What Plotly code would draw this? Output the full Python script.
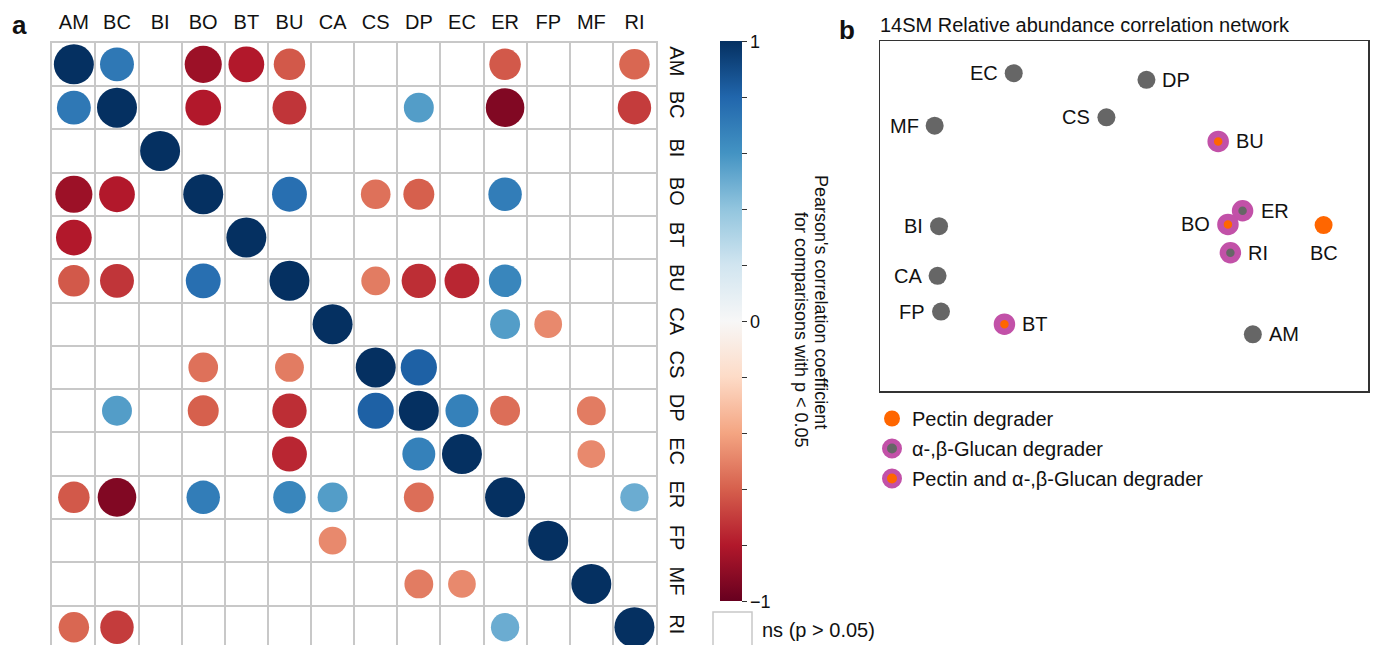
import plotly.graph_objects as go

# ---------------- data ----------------
species = ["AM", "BC", "BI", "BO", "BT", "BU", "CA", "CS", "DP", "EC", "ER", "FP", "MF", "RI"]

# Pearson correlation (None = not significant, p > 0.05); rows/cols follow `species`
corr = [
    [1.00, 0.72, None, -0.86, -0.80, -0.62, None, None, None, None, -0.62, None, None, -0.58],
    [0.72, 1.00, None, -0.80, None, -0.72, None, None, 0.56, None, -0.93, None, None, -0.70],
    [None, None, 1.00, None, None, None, None, None, None, None, None, None, None, None],
    [-0.86, -0.80, None, 1.00, None, 0.76, None, -0.55, -0.60, None, 0.70, None, None, None],
    [-0.80, None, None, None, 1.00, None, None, None, None, None, None, None, None, None],
    [-0.62, -0.72, None, 0.76, None, 1.00, None, -0.52, -0.74, -0.76, 0.66, None, None, None],
    [None, None, None, None, None, None, 1.00, None, None, None, 0.56, -0.48, None, None],
    [None, None, None, -0.55, None, -0.52, None, 1.00, 0.82, None, None, None, None, None],
    [None, 0.56, None, -0.60, None, -0.74, None, 0.82, 1.00, 0.68, -0.56, None, -0.52, None],
    [None, None, None, None, None, -0.76, None, None, 0.68, 1.00, None, None, -0.48, None],
    [-0.62, -0.93, None, 0.70, None, 0.66, 0.56, None, -0.56, None, 1.00, None, None, 0.50],
    [None, None, None, None, None, None, -0.48, None, None, None, None, 1.00, None, None],
    [None, None, None, None, None, None, None, None, -0.52, -0.48, None, None, 1.00, None],
    [-0.58, -0.70, None, None, None, None, None, None, None, None, 0.50, None, None, 1.00],
]

# network layout (panel b)
node_names = ["EC", "DP", "CS", "MF", "BU", "ER", "BO", "BC", "BI", "RI", "CA", "FP", "BT", "AM"]
node_x = [27.4, 54.6, 46.4, 11.2, 69.3, 74.3, 71.3, 90.9, 12.1, 71.8, 11.8, 12.5, 25.5, 76.4]
node_y = [90.8, 88.9, 78.2, 75.8, 71.3, 51.5, 47.6, 47.4, 47.1, 39.5, 32.9, 22.7, 19.1, 16.2]
node_type = ["other", "other", "other", "other", "both", "glucan", "both", "pectin",
             "other", "glucan", "other", "other", "both", "other"]
node_label_side = ["left", "right", "left", "left", "right", "right", "left", "below",
                   "left", "right", "left", "left", "right", "right"]

cbar_tickvals = [-1, -0.8, -0.6, -0.4, -0.2, 0, 0.2, 0.4, 0.6, 0.8, 1]
cbar_ticktext = ["\u22121", "", "", "", "", "0", "", "", "", "", "1"]

# ---------------- style ----------------
FONT = "Liberation Sans, Arial, sans-serif"
RDBU = ['rgb(103,0,31)', 'rgb(178,24,43)', 'rgb(214,96,77)', 'rgb(244,165,130)',
        'rgb(253,219,199)', 'rgb(247,247,247)', 'rgb(209,229,240)', 'rgb(146,197,222)',
        'rgb(67,147,195)', 'rgb(33,102,172)', 'rgb(5,48,97)']
colorscale = [[i / (len(RDBU) - 1), c] for i, c in enumerate(RDBU)]
GRAY = "#666666"
ORANGE = "#FF6600"
MAGENTA = "#C251A8"
GRIDC = "#c8c8c8"
W, H = 1373, 645

# ---------------- matrix points ----------------
mx, my, mr = [], [], []
for i, row in enumerate(corr):
    for j, v in enumerate(row):
        if v is not None:
            mx.append(species[j])
            my.append(species[i])
            mr.append(v)
msize = [40 * abs(v) ** 0.5 for v in mr]

fig = go.Figure()
fig.add_trace(go.Scatter(
    x=mx, y=my, mode="markers", showlegend=False, hoverinfo="skip",
    marker=dict(size=msize, color=mr, colorscale=colorscale, cmin=-1, cmax=1,
                line=dict(width=0), opacity=1,
                colorbar=dict(x=719.5 / W, xanchor="left", y=(H - 41.3) / H, yanchor="top",
                              len=559.7 / H, lenmode="fraction", thickness=22,
                              thicknessmode="pixels", xpad=0, ypad=0, outlinewidth=0,
                              tickvals=cbar_tickvals, ticktext=cbar_ticktext,
                              ticks="outside", ticklen=5, tickcolor="#333", tickwidth=1,
                              tickfont=dict(family=FONT, size=18, color="#111"))),
    xaxis="x", yaxis="y"))

# ---------------- network nodes ----------------
groups = [
    ("other", None, GRAY, 18, 0, GRAY, 9),
    ("pectin", "Pectin degrader", ORANGE, 18, 0, ORANGE, 9),
    ("glucan", "\u03b1-,\u03b2-Glucan degrader", GRAY, 15, 6.5, MAGENTA, 11),
    ("both", "Pectin and \u03b1-,\u03b2-Glucan degrader", ORANGE, 15, 6.5, MAGENTA, 11),
]
radius_of = {}
for key, name, fill, size, lw, lc, rad in groups:
    radius_of[key] = rad
    idx = [k for k, t in enumerate(node_type) if t == key]
    fig.add_trace(go.Scatter(
        x=[node_x[k] for k in idx], y=[node_y[k] for k in idx],
        mode="markers", name=name if name else "", showlegend=name is not None,
        legendgroup=key, hoverinfo="skip",
        marker=dict(size=size, color=fill, line=dict(width=lw, color=lc)),
        xaxis="x2", yaxis="y2"))

for k, nm in enumerate(node_names):
    side = node_label_side[k]
    gap = radius_of[node_type[k]] + 5
    if side == "left":
        kw = dict(xanchor="right", yanchor="middle", xshift=-gap)
    elif side == "right":
        kw = dict(xanchor="left", yanchor="middle", xshift=gap)
    else:
        kw = dict(xanchor="center", yanchor="top", yshift=-(gap + 1))
    fig.add_annotation(text=nm, x=node_x[k], y=node_y[k], xref="x2", yref="y2",
                       showarrow=False, font=dict(family=FONT, size=20, color="#111"), **kw)

# ---------------- layout ----------------
fig.update_layout(
    width=W, height=H, margin=dict(l=0, r=0, t=0, b=0),
    paper_bgcolor="white", plot_bgcolor="white",
    font=dict(family=FONT, size=20, color="#111"),
    xaxis=dict(domain=[52.3 / W, 656 / W], type="category", categoryorder="array",
               categoryarray=species, range=[-0.5, 13.5], side="top",
               tickson="boundaries", ticks="", showgrid=True, gridcolor=GRIDC, gridwidth=2,
               showline=True, linecolor=GRIDC, linewidth=2, mirror=False, zeroline=False,
               ticklabelstandoff=4, tickfont=dict(family=FONT, size=20, color="#111"),
               fixedrange=True),
    yaxis=dict(domain=[0, (H - 42.7) / H], type="category", categoryorder="array",
               categoryarray=species, range=[13.41, -0.5], side="right",
               tickson="boundaries", ticks="", showgrid=True, gridcolor=GRIDC, gridwidth=2,
               showline=True, linecolor=GRIDC, linewidth=2, mirror=True, zeroline=False,
               tickangle=90, ticklabelstandoff=4,
               tickfont=dict(family=FONT, size=20, color="#111"), fixedrange=True),
    xaxis2=dict(domain=[880 / W, 1368 / W], range=[0, 100], showgrid=False, zeroline=False,
                showticklabels=False, ticks="", showline=True, mirror=True,
                linecolor="#333", linewidth=1.5, anchor="y2", fixedrange=True),
    yaxis2=dict(domain=[(H - 391) / H, (H - 41) / H], range=[0, 100], showgrid=False,
                zeroline=False, showticklabels=False, ticks="", showline=True, mirror=True,
                linecolor="#333", linewidth=1.5, anchor="x2", fixedrange=True),
    legend=dict(x=872 / W, xanchor="left", y=(H - 399) / H, yanchor="top",
                traceorder="grouped", tracegroupgap=1, itemsizing="trace",
                font=dict(family=FONT, size=20, color="#111"), bgcolor="rgba(0,0,0,0)",
                borderwidth=0),
    showlegend=True,
)

# panel letters, titles, colorbar title, ns key
fig.add_annotation(text="<b>a</b>", x=19 / W, y=(H - 25) / H, xref="paper", yref="paper",
                   showarrow=False, font=dict(family=FONT, size=26, color="#111"),
                   xanchor="center", yanchor="middle")
fig.add_annotation(text="<b>b</b>", x=847 / W, y=(H - 30) / H, xref="paper", yref="paper",
                   showarrow=False, font=dict(family=FONT, size=26, color="#111"),
                   xanchor="center", yanchor="middle")
fig.add_annotation(text="14SM Relative abundance correlation network", x=878 / W,
                   y=(H - 25) / H, xref="paper", yref="paper", showarrow=False,
                   xanchor="left", yanchor="middle",
                   font=dict(family=FONT, size=20, color="#111"))
fig.add_annotation(text="Pearson's correlation coefficient", textangle=90,
                   x=821 / W, y=(H - 302) / H, xref="paper", yref="paper", showarrow=False,
                   xanchor="center", yanchor="middle",
                   font=dict(family=FONT, size=18, color="#111"))
fig.add_annotation(text="for comparisons with p < 0.05", textangle=90,
                   x=801 / W, y=(H - 330) / H, xref="paper", yref="paper", showarrow=False,
                   xanchor="center", yanchor="middle",
                   font=dict(family=FONT, size=18, color="#111"))
fig.add_shape(type="rect", xref="paper", yref="paper", x0=713 / W, x1=752 / W,
              y0=-5 / H, y1=(H - 612) / H, line=dict(color=GRIDC, width=1.5),
              fillcolor="white")
fig.add_annotation(text="ns (p > 0.05)", x=760 / W, y=(H - 630) / H, xref="paper",
                   yref="paper", showarrow=False, xanchor="left", yanchor="middle",
                   font=dict(family=FONT, size=20, color="#111"))

fig.write_html("out.html", config={"displayModeBar": False, "staticPlot": True},
               post_script="document.body.style.margin='0px';"
                           "document.body.style.overflow='hidden';")
